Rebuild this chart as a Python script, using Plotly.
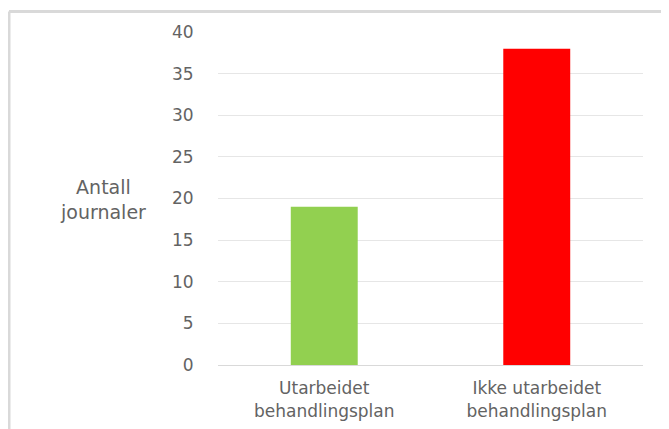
import plotly.graph_objects as go

categories = ["Utarbeidet<br>behandlingsplan", "Ikke utarbeidet<br>behandlingsplan"]
values = [19, 38]
colors = ["#92d050", "#ff0000"]
y_title = "Antall<br>journaler"

OFF = 8  # page body margin in the browser
W, H = 669 - OFF, 429 - OFF
# target plot area in window pixels: x 218..643, y 31.5..365
L, R, T, B = 218 - OFF, 669 - 643, 31.5 - OFF, 429 - 365
pw, ph = W - L - R, H - T - B

def px(x):
    return (x - OFF - L) / pw

def py(y):
    return (H - B - (y - OFF)) / ph

fig = go.Figure(go.Bar(x=categories, y=values, marker_color=colors,
                       marker_line_width=0, width=0.315))

font_family = "DejaVu Sans, Open Sans, sans-serif"
txt = "#636363"
fig.update_layout(
    width=W, height=H, margin=dict(l=L, r=R, t=T, b=B),
    paper_bgcolor="white", plot_bgcolor="white",
    font=dict(family=font_family, color=txt),
    showlegend=False,
)
fig.update_yaxes(range=[0, 40], dtick=5, showgrid=True, gridcolor="#e6e6e6",
                 gridwidth=1, zeroline=False, showline=False, automargin=False,
                 tickfont=dict(size=17, color=txt),
                 ticks="outside", ticklen=20, tickcolor="rgba(0,0,0,0)")
fig.update_xaxes(showline=True, linecolor="#d9d9d9", linewidth=1, automargin=False,
                 tickfont=dict(size=17, color=txt), ticks="outside",
                 ticklen=8, tickcolor="rgba(0,0,0,0)")

fig.add_annotation(text=y_title, xref="paper", yref="paper", x=px(103), y=py(199),
                   showarrow=False, font=dict(size=19, color=txt),
                   xanchor="center", yanchor="middle", align="center")

fig.add_shape(type="line", xref="paper", yref="paper", x0=px(9), x1=px(669),
              y0=py(11), y1=py(11), line=dict(color="#d9d9d9", width=3))
fig.add_shape(type="line", xref="paper", yref="paper", x0=px(9), x1=px(9),
              y0=py(11), y1=py(429), line=dict(color="#d9d9d9", width=3))

fig.write_html("out.html")
